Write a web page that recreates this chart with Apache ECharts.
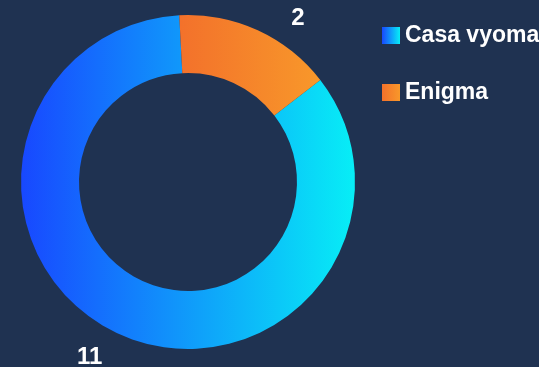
<!DOCTYPE html>
<html>
<head>
<meta charset="utf-8">
<script src="https://cdn.jsdelivr.net/npm/echarts@6/dist/echarts.min.js"></script>
<style>
  html, body { margin: 0; padding: 0; background: #1f3251; }
  #chart { width: 539px; height: 367px; }
</style>
</head>
<body>
<div id="chart"></div>
<script>
// Project counts per site
const categories = ['Casa vyoma', 'Enigma'];
const values = [11, 2];

// Per-slice look: gradient stops and label guide lengths
const sliceStyles = [
  { from: '#1848ff', to: '#07eef6', lineLen: 26, lineLen2: 0 },
  { from: '#f3712b', to: '#f8982a', lineLen: 13, lineLen2: 23 }
];

const chart = echarts.init(document.getElementById('chart'), null, { renderer: 'canvas' });

const data = categories.map((name, i) => ({
  name: name,
  value: values[i],
  itemStyle: {
    color: new echarts.graphic.LinearGradient(0, 0, 1, 0, [
      { offset: 0, color: sliceStyles[i].from },
      { offset: 1, color: sliceStyles[i].to }
    ])
  },
  labelLine: { show: false, length: sliceStyles[i].lineLen, length2: sliceStyles[i].lineLen2 }
}));

chart.setOption({
  backgroundColor: '#1f3251',
  animation: false,
  legend: {
    orient: 'vertical',
    left: 377,
    top: 19,
    itemWidth: 18,
    itemHeight: 17,
    itemGap: 34,
    icon: 'rect',
    textStyle: {
      color: '#ffffff',
      fontSize: 23,
      fontWeight: 'bold',
      fontFamily: 'Liberation Sans, Arial, sans-serif'
    },
    data: categories
  },
  series: [{
    type: 'pie',
    center: [188, 182],
    radius: [109, 167],
    startAngle: 93,
    clockwise: false,
    label: {
      show: true,
      position: 'outside',
      formatter: '{c}',
      color: '#ffffff',
      fontSize: 24,
      fontWeight: 'bold',
      fontFamily: 'Liberation Sans, Arial, sans-serif'
    },
    labelLine: { show: false },
    emphasis: { disabled: true },
    data: data
  }]
});
</script>
</body>
</html>
